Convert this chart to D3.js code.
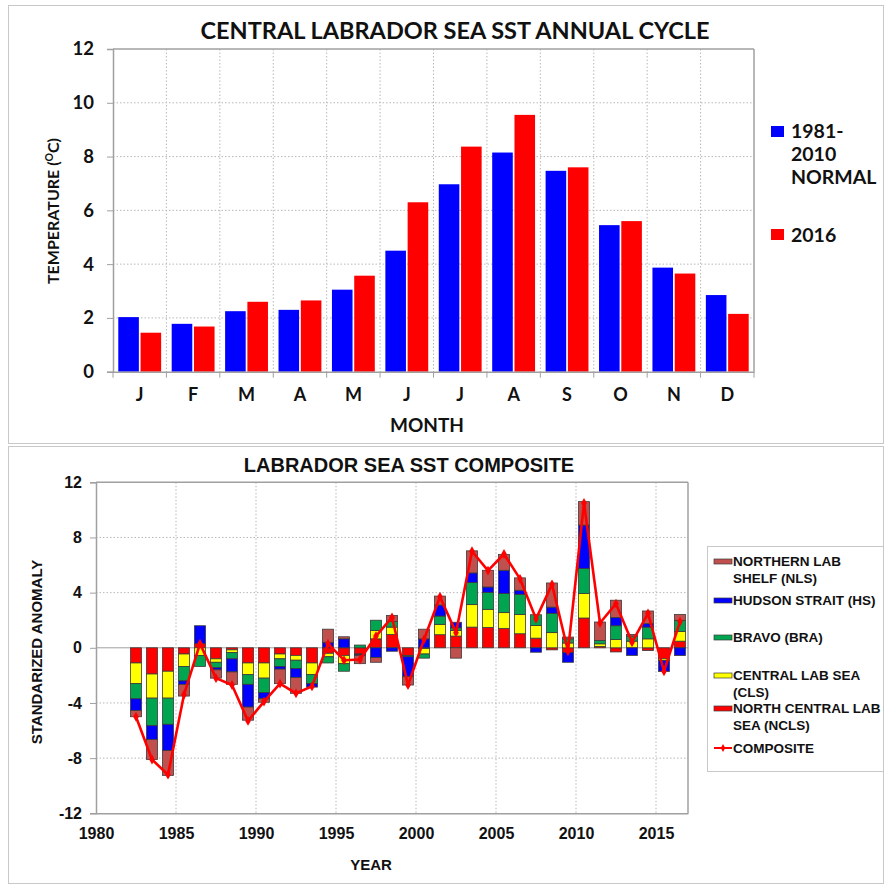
<!DOCTYPE html>
<html><head><meta charset="utf-8">
<script src="https://cdn.jsdelivr.net/npm/d3@7"></script>
<style>
html,body{margin:0;padding:0;background:#fff;}
svg{display:block;}
</style></head>
<body>
<svg id="c" width="884" height="884"></svg>
<script>
// ---------- Top chart data ----------
const months = ["J","F","M","A","M ","J ","J  ","A ","S","O","N","D"];
const monthLabels = ["J","F","M","A","M","J","J","A","S","O","N","D"];
const normal = [2.03,1.78,2.25,2.3,3.05,4.5,6.97,8.15,7.47,5.45,3.87,2.85];
const y2016 = [1.45,1.68,2.6,2.65,3.57,6.3,8.37,9.55,7.6,5.6,3.65,2.15];
const topYTicks = [0,2,4,6,8,10,12];

// ---------- Bottom chart data ----------
const years = [1982,1983,1984,1985,1986,1987,1988,1989,1990,1991,1992,1993,1994,1995,1996,1997,1998,1999,2000,2001,2002,2003,2004,2005,2006,2007,2008,2009,2010,2011,2012,2013,2014,2015,2016];
const ncls = [-1.1,-1.9,-1.7,-0.45,0.3,-0.8,-0.15,-1.1,-1.1,-0.45,-0.55,-1.1,-0.4,-0.55,-0.45,0.65,0.97,-0.55,-0.05,0.95,0.85,1.5,1.48,1.41,1.02,0.7,-0.15,-0.35,2.16,0.1,-0.3,0,-0.2,-0.8,0.48];
const cls  = [-1.5,-1.75,-1.95,-0.9,-0.55,-0.25,-0.2,-0.85,-1.1,-0.35,-0.35,-0.85,-0.25,-0.6,-0.05,0.6,0.53,0,-0.4,0.75,0.4,1.63,1.31,1.14,1.4,0.92,1.1,0.35,1.77,0.19,0.6,0.48,0.65,-0.12,0.71];
const bra  = [-1.1,-2.0,-1.9,-1.05,-0.8,-0.4,-0.45,-0.7,-1.05,-0.55,-0.6,-0.65,-0.45,-0.55,0.2,0.75,0.42,-0.1,-0.3,0.6,0.2,1.6,1.23,1.38,1.46,0.78,1.4,0.3,1.82,0.24,1.0,0.37,0.85,0,0.8];
const hs   = [-0.85,-1.0,-1.9,-0.25,1.3,-0.15,-0.95,-1.65,-0.45,-0.2,-0.65,-0.25,0.4,0.65,-0.05,-0.7,-0.25,-1.45,0.65,0.8,0.4,0.7,0.39,1.69,0.29,-0.32,0.45,-0.7,3.15,0,0.6,-0.55,0.25,-0.8,-0.56];
const nls  = [-0.45,-1.45,-1.8,-0.85,0,-0.6,-0.9,-0.95,-0.25,-1.05,-1.15,0,0.95,0.15,-0.6,-0.35,0.43,-0.6,0.7,0.65,-0.75,1.6,1.21,1.14,0.9,0,1.75,0.13,1.7,1.34,1.25,0.12,0.92,0,0.43];
const composite = [-5.0,-8.1,-9.2,-3.4,0.3,-2.2,-2.7,-5.3,-3.9,-2.6,-3.3,-2.8,0.3,-0.9,-0.85,0.85,2.2,-2.7,0.6,3.7,1.1,7.0,5.6,6.8,5.0,2.1,4.6,-0.25,10.5,1.8,3.2,0.4,2.5,-1.7,1.9];
const botYTicks = [-12,-8,-4,0,4,8,12];
const botXTicks = [1980,1985,1990,1995,2000,2005,2010,2015];
const seriesKeys = ["NCLS","CLS","BRA","HS","NLS"];
const seriesColors = {NCLS:"#FF0000",CLS:"#FFFF00",BRA:"#00A550",HS:"#0000FF",NLS:"#C0504D"};
const legendItems = [
  {key:"NLS", lines:["NORTHERN LAB","SHELF (NLS)"]},
  {key:"HS", lines:["HUDSON STRAIT (HS)"]},
  {key:"BRA", lines:["BRAVO (BRA)"]},
  {key:"CLS", lines:["CENTRAL LAB SEA","(CLS)"]},
  {key:"NCLS", lines:["NORTH CENTRAL LAB","SEA (NCLS)"]},
  {key:"COMP", lines:["COMPOSITE"]}
];

const svg = d3.select("#c");
const topFont = "Lato, 'Open Sans', sans-serif";
const botFont = "'Liberation Sans', Arial, sans-serif";

// panel frames
svg.append("rect").attr("x",8.5).attr("y",5.5).attr("width",875).attr("height",438).attr("fill","none").attr("stroke","#c8c8c8");
svg.append("rect").attr("x",8.5).attr("y",446.5).attr("width",875).attr("height",437).attr("fill","none").attr("stroke","#c8c8c8");

// ================= TOP CHART =================
const tL=113, tR=754, tT=49, tB=371.7;
const x0 = d3.scaleBand().domain(months).range([tL,tR]).paddingInner(0).paddingOuter(0);
const x1 = d3.scaleBand().domain(["normal","y2016"]).range([0,x0.bandwidth()]).paddingInner(0.076).paddingOuter(0.237);
const yT = d3.scaleLinear().domain([0,12]).range([tB,tT]);
const gT = svg.append("g");

gT.selectAll(".hg").data(topYTicks.filter(d=>d>0&&d<12)).enter().append("line")
  .attr("x1",tL).attr("x2",tR).attr("y1",d=>yT(d)).attr("y2",d=>yT(d))
  .attr("stroke","#b8b8b8").attr("stroke-dasharray","1.5,2");
gT.selectAll(".vg").data(months.slice(1)).enter().append("line")
  .attr("x1",d=>x0(d)).attr("x2",d=>x0(d)).attr("y1",tT).attr("y2",tB)
  .attr("stroke","#b8b8b8").attr("stroke-dasharray","1.5,2");
gT.append("line").attr("x1",tL).attr("x2",tR).attr("y1",tT).attr("y2",tT).attr("stroke","#a0a0a0").attr("stroke-width",1.5);
gT.append("line").attr("x1",tR).attr("x2",tR).attr("y1",tT).attr("y2",tB).attr("stroke","#a0a0a0").attr("stroke-width",1.5);

const topData = months.map((m,i)=>({m, normal:normal[i], y2016:y2016[i]}));
const grp = gT.selectAll(".mg").data(topData).enter().append("g").attr("transform",d=>`translate(${x0(d.m)},0)`);
grp.append("rect").attr("x",x1("normal")).attr("width",x1.bandwidth())
  .attr("y",d=>yT(d.normal)).attr("height",d=>yT(0)-yT(d.normal)).attr("fill","#0000FF");
grp.append("rect").attr("x",x1("y2016")).attr("width",x1.bandwidth())
  .attr("y",d=>yT(d.y2016)).attr("height",d=>yT(0)-yT(d.y2016)).attr("fill","#FF0000");

const yAxT = d3.axisLeft(yT).tickValues(topYTicks).tickSize(6).tickPadding(13);
const gyT = gT.append("g").attr("transform",`translate(${tL},0)`).call(yAxT);
gyT.select(".domain").attr("stroke","#a0a0a0").attr("stroke-width",1.5);
gyT.selectAll(".tick line").attr("stroke","#a0a0a0");
gyT.selectAll("text").attr("font-family",topFont).attr("font-weight","bold").attr("font-size","18.5px").attr("fill","#111");

const xAxT = d3.axisBottom(x0).tickSize(0).tickPadding(17).tickFormat((d,i)=>monthLabels[i]);
const gxT = gT.append("g").attr("transform",`translate(0,${tB})`).call(xAxT);
gxT.select(".domain").attr("stroke","#a0a0a0").attr("stroke-width",1.5);
gxT.selectAll("text").attr("font-family",topFont).attr("font-weight","bold").attr("font-size","18px").attr("fill","#111");
gT.selectAll(".bt").data(months.concat(["end"])).enter().append("line")
  .attr("x1",(d,i)=> i<12 ? x0(d) : tR).attr("x2",(d,i)=> i<12 ? x0(d) : tR)
  .attr("y1",tB).attr("y2",tB+6).attr("stroke","#a0a0a0");

svg.append("text").attr("x",455).attr("y",39).attr("text-anchor","middle")
  .attr("font-family",topFont).attr("font-weight","bold").attr("font-size","23.5px").attr("fill","#111")
  .text("CENTRAL LABRADOR SEA SST ANNUAL CYCLE");
svg.append("text").attr("x",427).attr("y",432).attr("text-anchor","middle")
  .attr("font-family",topFont).attr("font-weight","bold").attr("font-size","19px").attr("fill","#111")
  .text("MONTH");
const yl = svg.append("text").attr("transform","translate(59,211) rotate(-90)").attr("text-anchor","middle")
  .attr("font-family",topFont).attr("font-weight","bold").attr("font-size","16px").attr("fill","#111");
yl.append("tspan").text("TEMPERATURE (");
yl.append("tspan").attr("font-size","10.5px").attr("dy","-6").text("O");
yl.append("tspan").attr("dy","6").text("C)");

const tl = svg.append("g");
tl.append("rect").attr("x",771).attr("y",126).attr("width",13).attr("height",11).attr("fill","#0000FF");
["1981-","2010","NORMAL"].forEach((t,i)=>{
  tl.append("text").attr("x",791).attr("y",138+i*23).attr("font-family",topFont).attr("font-weight","bold")
    .attr("font-size","19.5px").attr("fill","#111").text(t);
});
tl.append("rect").attr("x",771).attr("y",229).attr("width",13).attr("height",11).attr("fill","#FF0000");
tl.append("text").attr("x",791).attr("y",242).attr("font-family",topFont).attr("font-weight","bold")
  .attr("font-size","19.5px").attr("fill","#111").text("2016");

// ================= BOTTOM CHART =================
const bL=96, bR=688, bT=482.3, bB=813.3;
const xB = d3.scaleLinear().domain([1980,2017]).range([bL,bR]);
const yB = d3.scaleLinear().domain([-12,12]).range([bB,bT]);
const gB = svg.append("g");

gB.selectAll(".hg").data(botYTicks.filter(d=>d!==0&&Math.abs(d)<12)).enter().append("line")
  .attr("x1",bL).attr("x2",bR).attr("y1",d=>yB(d)).attr("y2",d=>yB(d))
  .attr("stroke","#b8b8b8").attr("stroke-dasharray","1.5,2");
gB.selectAll(".vg").data(botXTicks.filter(d=>d>1980)).enter().append("line")
  .attr("x1",d=>xB(d)).attr("x2",d=>xB(d)).attr("y1",bT).attr("y2",bB)
  .attr("stroke","#b8b8b8").attr("stroke-dasharray","1.5,2");
gB.append("line").attr("x1",bL).attr("x2",bR).attr("y1",bT).attr("y2",bT).attr("stroke","#a0a0a0").attr("stroke-width",1.5);
gB.append("line").attr("x1",bR).attr("x2",bR).attr("y1",bT).attr("y2",bB).attr("stroke","#a0a0a0").attr("stroke-width",1.5);
gB.append("line").attr("x1",bL).attr("x2",bR).attr("y1",yB(0)).attr("y2",yB(0)).attr("stroke","#a0a0a0").attr("stroke-width",1);

const rows = years.map((y,i)=>({year:y, NCLS:ncls[i], CLS:cls[i], BRA:bra[i], HS:hs[i], NLS:nls[i]}));
const stack = d3.stack().keys(seriesKeys).offset(d3.stackOffsetDiverging);
const stacked = stack(rows);
const barW = (xB(1)-xB(0))*0.69;
stacked.forEach(s=>{
  gB.selectAll(null).data(s.filter(d=>d[1]!==d[0])).enter().append("rect")
    .attr("x",d=>xB(d.data.year+0.5)-barW/2).attr("width",barW)
    .attr("y",d=>yB(Math.max(d[0],d[1]))).attr("height",d=>Math.abs(yB(d[0])-yB(d[1])))
    .attr("fill",seriesColors[s.key]).attr("stroke","#3a3a3a").attr("stroke-width",0.8);
});

const compData = years.map((y,i)=>({year:y, v:composite[i]}));
const line = d3.line().x(d=>xB(d.year+0.5)).y(d=>yB(d.v));
gB.append("path").datum(compData).attr("d",line).attr("fill","none").attr("stroke","#FF0000").attr("stroke-width",2.6).attr("stroke-linejoin","round");
gB.selectAll(".cm").data(compData).enter().append("path")
  .attr("transform",d=>`translate(${xB(d.year+0.5)},${yB(d.v)})`)
  .attr("d",d3.symbol(d3.symbolDiamond,28)).attr("fill","#FF0000");

const yAxB = d3.axisLeft(yB).tickValues(botYTicks).tickSize(6).tickPadding(8).tickFormat(d=>String(d));
const gyB = gB.append("g").attr("transform",`translate(${bL},0)`).call(yAxB);
gyB.select(".domain").attr("stroke","#a0a0a0").attr("stroke-width",1.5);
gyB.selectAll(".tick line").attr("stroke","#a0a0a0");
gyB.selectAll("text").attr("font-family",botFont).attr("font-weight","bold").attr("font-size","16px").attr("fill","#111");

const xAxB = d3.axisBottom(xB).tickValues(botXTicks).tickSize(0).tickPadding(14).tickFormat(d=>String(d));
const gxB = gB.append("g").attr("transform",`translate(0,${bB})`).call(xAxB);
gxB.select(".domain").attr("stroke","#a0a0a0").attr("stroke-width",1.5);
gxB.selectAll("text").attr("font-family",botFont).attr("font-weight","bold").attr("font-size","16px").attr("fill","#111");

svg.append("text").attr("x",409).attr("y",472).attr("text-anchor","middle")
  .attr("font-family",botFont).attr("font-weight","bold").attr("font-size","20px").attr("fill","#111")
  .text("LABRADOR SEA SST COMPOSITE");
svg.append("text").attr("x",371).attr("y",870).attr("text-anchor","middle")
  .attr("font-family",botFont).attr("font-weight","bold").attr("font-size","15px").attr("fill","#111")
  .text("YEAR");
svg.append("text").attr("transform","translate(42,652) rotate(-90)").attr("text-anchor","middle")
  .attr("font-family",botFont).attr("font-weight","bold").attr("font-size","15px").attr("fill","#111")
  .text("STANDARIZED ANOMALY");

const lg = svg.append("g");
lg.append("rect").attr("x",707.5).attr("y",546.5).attr("width",176).attr("height",225).attr("fill","#fff").attr("stroke","#c8c8c8");
const legendY = [566,605,642,680,713,753];
legendItems.forEach((it,i)=>{
  const by = legendY[i];
  if(it.key==="COMP"){
    lg.append("line").attr("x1",714).attr("x2",732).attr("y1",by-5).attr("y2",by-5).attr("stroke","#FF0000").attr("stroke-width",2);
    lg.append("path").attr("transform",`translate(723,${by-5})`).attr("d",d3.symbol(d3.symbolDiamond,18)).attr("fill","#FF0000");
  } else {
    lg.append("rect").attr("x",714).attr("y",by-7).attr("width",18).attr("height",5)
      .attr("fill",seriesColors[it.key]).attr("stroke","#3a3a3a").attr("stroke-width",0.7);
  }
  it.lines.forEach((t,j)=>{
    lg.append("text").attr("x",733).attr("y",by+j*16.5).attr("font-family",botFont).attr("font-weight","bold")
      .attr("font-size","13.5px").attr("fill","#111").text(t);
  });
});
</script>
</body></html>
